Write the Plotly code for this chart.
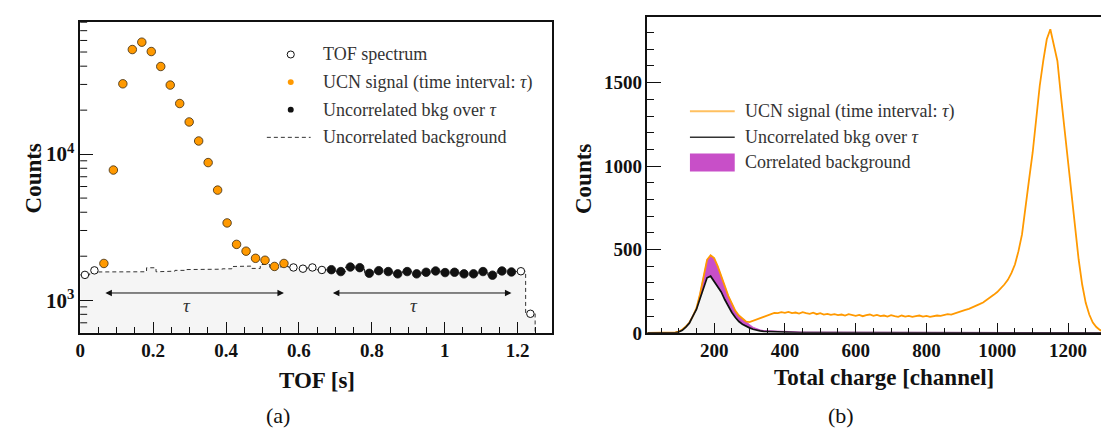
import numpy as np
import plotly.graph_objects as go

# ---------------- data: panel (a) TOF spectrum ----------------
TOF_BIN_WIDTH = 0.026  # s
TOF_COUNTS = [1490, 1600, 1784, 7780, 30300, 52000, 58400, 50400, 39800, 29700,
              22200, 16600, 12300, 8750, 5670, 3380, 2410, 2165, 1935, 1877,
              1702, 1784, 1675, 1643, 1675, 1610, 1617, 1570, 1686, 1670,
              1528, 1592, 1570, 1514, 1570, 1514, 1553, 1585, 1545, 1553,
              1514, 1514, 1570, 1483, 1585, 1560, 1578, 807]
BKG_COUNTS = [1490, 1560, 1567, 1560, 1555, 1560, 1565, 1667, 1565, 1580,
              1600, 1620, 1625, 1625, 1630, 1640, 1700, 1711, 1650, 1755,
              1680, 1700, 1675, 1643, 1675, 1610, 1617, 1570, 1686, 1670,
              1528, 1592, 1570, 1514, 1570, 1514, 1553, 1585, 1545, 1553,
              1514, 1514, 1570, 1483, 1585, 1560, 1578, 807]
SIGNAL_WINDOW = (0.05, 0.572)
BKG_WINDOW = (0.676, 1.196)

# ---------------- data: panel (b) charge spectra ----------------
CHANNELS = list(range(0, 1340, 10))
UCN_SIGNAL = [0, 0, 0, 0, 0, 0, 0, 0, 1, 3,
              8, 20, 38, 62, 100, 148, 232, 345, 438, 465,
              448, 400, 345, 282, 222, 172, 132, 104, 84, 68,
              64, 72, 82, 90, 98, 106, 112, 120, 118, 124,
              120, 126, 118, 122, 116, 124, 118, 114, 121, 112,
              118, 110, 114, 108, 112, 106, 110, 104, 112, 106,
              102, 108, 100, 106, 110, 102, 108, 100, 104, 98,
              106, 100, 96, 104, 98, 102, 96, 100, 104, 98,
              102, 96, 100, 104, 102, 108, 112, 110, 118, 124,
              130, 138, 144, 152, 162, 172, 182, 196, 212, 228,
              245, 265, 290, 318, 358, 410, 490, 590, 740, 920,
              1080, 1290, 1480, 1630, 1760, 1820, 1720, 1630, 1420, 1230,
              1000, 840, 620, 440, 290, 180, 110, 62, 35, 18,
              8, 3, 1, 0]
UNCORR_BKG = [0, 0, 0, 0, 0, 0, 0, 0, 0, 0,
              5, 15, 35, 58, 100, 140, 205, 270, 330, 340,
              310, 280, 245, 200, 158, 122, 92, 68, 52, 40,
              30, 22, 16, 12, 9, 8, 6, 5, 4, 4,
              3, 3, 3, 2, 2, 2, 2, 2, 2, 1,
              1, 1, 1, 1, 1, 1, 1, 1, 1, 1,
              1, 1, 1, 1, 1, 1, 1, 1, 1, 1,
              1, 1, 1, 1, 1, 1, 1, 1, 1, 1,
              1, 1, 1, 1, 1, 1, 1, 1, 1, 1,
              1, 1, 1, 1, 1, 1, 1, 1, 1, 1,
              1, 1, 1, 1, 1, 1, 1, 1, 1, 1,
              1, 1, 1, 1, 1, 1, 1, 1, 1, 1,
              1, 1, 1, 1, 1, 1, 1, 1, 1, 1,
              1, 1, 0, 0]
CORR_BKG = [0, 0, 0, 0, 0, 0, 0, 0, 0, 0,
            2, 4, 4, 5, 5, 6, 29, 75, 108, 125,
            138, 120, 100, 82, 64, 50, 40, 36, 32, 28,
            20, 12, 8, 6, 5, 5, 4, 4, 4, 4,
            3, 3, 3, 3, 3, 3, 3, 3, 3, 3,
            3, 3, 3, 3, 3, 3, 3, 3, 3, 3,
            3, 3, 3, 3, 3, 3, 3, 3, 3, 3,
            3, 3, 3, 3, 3, 3, 3, 3, 3, 3,
            3, 3, 3, 3, 3, 3, 3, 3, 3, 3,
            3, 3, 3, 3, 3, 3, 3, 3, 3, 3,
            3, 3, 3, 3, 3, 3, 3, 3, 3, 3,
            3, 3, 3, 3, 3, 3, 3, 3, 3, 3,
            3, 3, 3, 3, 3, 3, 3, 3, 3, 3,
            0, 0, 0, 0]

# ---------------- styling ----------------
W, H = 1109, 435
FONT = "Liberation Serif"
INK = "#111111"
ORANGE = "#ff9900"
MAGENTA = "#c84fc8"
GRAYFILL = "#f5f5f5"

A_LEFT, A_RIGHT, A_TOP, A_BOTTOM = 67.5, 541.7, 14.3, 333.0
B_LEFT, B_TOP, B_BOTTOM = 637.3, 9.0, 333.3


def px(x):
    return x / W


def py(y):
    return 1 - y / H


fig = go.Figure()

# ---- panel (a) ----
tof = np.array(TOF_COUNTS, dtype=float)
bkg = np.array(BKG_COUNTS, dtype=float)
centers = (np.arange(len(tof)) + 0.5) * TOF_BIN_WIDTH
step_x, step_y = [], []
for c, v in zip(centers, bkg):
    step_x += [c - TOF_BIN_WIDTH / 2, c + TOF_BIN_WIDTH / 2]
    step_y += [v, v]
step_x.append(step_x[-1])
step_y.append(1.0)  # drop below the axis after last bin

fig.add_trace(go.Scatter(x=step_x, y=step_y, mode="lines", xaxis="x", yaxis="y",
                         line=dict(color="#333333", width=1, dash="4px,3px"),
                         fill="tozeroy", fillcolor=GRAYFILL, hoverinfo="skip"))

in_sig = (centers >= SIGNAL_WINDOW[0]) & (centers <= SIGNAL_WINDOW[1])
in_bkg = (centers >= BKG_WINDOW[0]) & (centers <= BKG_WINDOW[1])
other = ~(in_sig | in_bkg)

fig.add_trace(go.Scatter(x=centers[other], y=tof[other], mode="markers", xaxis="x", yaxis="y",
                         marker=dict(size=7.5, color="white", line=dict(color=INK, width=1))))
fig.add_trace(go.Scatter(x=centers[in_sig], y=tof[in_sig], mode="markers", xaxis="x", yaxis="y",
                         marker=dict(size=8.5, color=ORANGE, line=dict(color="#3a2a10", width=0.8))))
fig.add_trace(go.Scatter(x=centers[in_bkg], y=tof[in_bkg], mode="markers", xaxis="x", yaxis="y",
                         marker=dict(size=8.5, color=INK, line=dict(color=INK, width=0.8))))

# ---- panel (b) ----
ch = np.array(CHANNELS, dtype=float)
ucn = np.array(UCN_SIGNAL, dtype=float)
unc = np.array(UNCORR_BKG, dtype=float)
cor = np.array(CORR_BKG, dtype=float)

fig.add_trace(go.Scatter(x=ch, y=unc, mode="lines", xaxis="x2", yaxis="y2",
                         line=dict(width=0, color=GRAYFILL), fill="tozeroy", fillcolor=GRAYFILL))
fig.add_trace(go.Scatter(x=ch, y=unc + cor, mode="lines", xaxis="x2", yaxis="y2",
                         line=dict(width=0.8, color=MAGENTA), fill="tonexty", fillcolor=MAGENTA))
fig.add_trace(go.Scatter(x=ch, y=ucn, mode="lines", xaxis="x2", yaxis="y2",
                         line=dict(width=1.8, color=ORANGE)))
fig.add_trace(go.Scatter(x=ch, y=unc, mode="lines", xaxis="x2", yaxis="y2",
                         line=dict(width=1.7, color=INK)))

# ---- axes ----
tick_font = dict(family=FONT, size=19, color=INK, weight="bold")
y_range_a = [np.log10(600), 4.905]

fig.update_layout(
    width=W, height=H, margin=dict(l=0, r=0, t=0, b=0),
    paper_bgcolor="white", plot_bgcolor="white", showlegend=False,
    font=dict(family=FONT, color=INK),
    xaxis=dict(domain=[px(A_LEFT), px(A_RIGHT)], range=[0, 1.295], anchor="y",
               showline=True, linecolor=INK, linewidth=1.5, mirror=True,
               ticks="inside", ticklen=11, tickwidth=1.2, tickcolor=INK,
               tick0=0, dtick=0.2, tickfont=tick_font, showgrid=False, zeroline=False,
               minor=dict(ticks="inside", ticklen=6, tick0=0, dtick=0.05, tickcolor=INK, tickwidth=1)),
    yaxis=dict(domain=[py(A_BOTTOM), py(A_TOP)], type="log", range=y_range_a, anchor="x",
               showline=True, linecolor=INK, linewidth=1.5, mirror=True,
               ticks="inside", ticklen=13, tickwidth=1.3, tickcolor=INK,
               tickmode="array", tickvals=[1000, 10000],
               ticktext=["10<sup>3</sup>", "10<sup>4</sup>"],
               tickfont=dict(family=FONT, size=21, color=INK, weight="bold"),
               showgrid=False, zeroline=False),
    xaxis2=dict(domain=[px(B_LEFT), 1.0], range=[11.5, 1338.4], anchor="y2",
                showline=True, linecolor=INK, linewidth=1.5, mirror=True,
                ticks="inside", ticklen=10, tickwidth=1.2, tickcolor=INK,
                tick0=0, dtick=200, tickfont=tick_font, showgrid=False, zeroline=False,
                minor=dict(ticks="inside", ticklen=5, tick0=0, dtick=50, tickcolor=INK, tickwidth=1)),
    yaxis2=dict(domain=[py(B_BOTTOM), py(B_TOP)], range=[0, 1895], anchor="x2",
                showline=True, linecolor=INK, linewidth=1.5, mirror=False,
                ticks="inside", ticklen=14, tickwidth=1.3, tickcolor=INK,
                tick0=0, dtick=500, tickfont=tick_font, showgrid=False, zeroline=False,
                minor=dict(ticks="inside", ticklen=7, tick0=0, dtick=100, tickcolor=INK, tickwidth=1)),
)

annotations = []
shapes = []

# minor log ticks on panel (a) y axis (2..9 x 10^n), drawn in the axis domain
span = y_range_a[1] - y_range_a[0]
for e in (2, 3, 4):
    for m in range(2, 10):
        f = (np.log10(m * 10 ** e) - y_range_a[0]) / span
        if 0 < f < 1:
            shapes.append(dict(type="line", xref="x domain", yref="y domain",
                               x0=0, x1=7 / (A_RIGHT - A_LEFT), y0=f, y1=f,
                               line=dict(color=INK, width=1)))

# window arrows and tau labels (panel a)
y_arrow = np.log10(1120)
y_tau = np.log10(920)
for mask in (in_sig, in_bkg):
    c0, c1 = centers[mask][0], centers[mask][-1]
    annotations.append(dict(x=c1, y=y_arrow, ax=c0, ay=y_arrow, xref="x", yref="y",
                            axref="x", ayref="y", showarrow=True, arrowhead=2,
                            arrowside="end+start", arrowsize=1.3, arrowwidth=1, arrowcolor=INK, text=""))
    annotations.append(dict(x=(c0 + c1) / 2 - 0.02, y=y_tau, xref="x", yref="y", showarrow=False,
                            xanchor="center", yanchor="middle",
                            text="<i>τ</i>", font=dict(family=FONT, size=19, color="#333")))

# legend panel (a)
leg_font = dict(family=FONT, size=18, color="#333")
rows_a = [47.7, 76, 104.3, 132.7]
labels_a = ["TOF spectrum", "UCN signal (time interval: <i>τ</i>)",
            "Uncorrelated bkg over <i>τ</i>", "Uncorrelated background"]
for yy, lab in zip(rows_a, labels_a):
    annotations.append(dict(x=px(309), y=py(yy), xref="paper", yref="paper", xanchor="left",
                            yanchor="middle", showarrow=False, text=lab, font=leg_font))
r = 3.6
shapes.append(dict(type="circle", xref="paper", yref="paper", x0=px(279 - r), x1=px(279 + r),
                   y0=py(rows_a[0] + r), y1=py(rows_a[0] - r), fillcolor="white",
                   line=dict(color=INK, width=1)))
r = 3.0
shapes.append(dict(type="circle", xref="paper", yref="paper", x0=px(279 - r), x1=px(279 + r),
                   y0=py(rows_a[1] + r), y1=py(rows_a[1] - r), fillcolor=ORANGE,
                   line=dict(color=ORANGE, width=0)))
shapes.append(dict(type="circle", xref="paper", yref="paper", x0=px(279 - r), x1=px(279 + r),
                   y0=py(rows_a[2] + r), y1=py(rows_a[2] - r), fillcolor=INK,
                   line=dict(color=INK, width=0)))
shapes.append(dict(type="line", xref="paper", yref="paper", x0=px(255), x1=px(299),
                   y0=py(rows_a[3]), y1=py(rows_a[3]), line=dict(color="#333", width=1, dash="4px,3px")))

# legend panel (b)
rows_b = [106, 132.7, 158.5]
labels_b = ["UCN signal (time interval: <i>τ</i>)", "Uncorrelated bkg over <i>τ</i>",
            "Correlated background"]
for yy, lab in zip(rows_b, labels_b):
    annotations.append(dict(x=px(733), y=py(yy), xref="paper", yref="paper", xanchor="left",
                            yanchor="middle", showarrow=False, text=lab, font=leg_font))
shapes.append(dict(type="line", xref="paper", yref="paper", x0=px(680), x1=px(725),
                   y0=py(rows_b[0]), y1=py(rows_b[0]), line=dict(color="#ffc060", width=2)))
shapes.append(dict(type="line", xref="paper", yref="paper", x0=px(680), x1=px(725),
                   y0=py(rows_b[1]), y1=py(rows_b[1]), line=dict(color="#333", width=1.5)))
shapes.append(dict(type="rect", xref="paper", yref="paper", x0=px(680), x1=px(725),
                   y0=py(167.7), y1=py(149.3), fillcolor=MAGENTA, line=dict(width=0)))

# axis titles and panel labels
title_font = dict(family=FONT, size=23, color=INK, weight="bold")


def label(x, y, text, font, angle=0):
    return dict(x=px(x), y=py(y), xref="paper", yref="paper", text=text, textangle=angle,
                xanchor="center", yanchor="middle", showarrow=False, font=font)


annotations += [
    label(21, 175, "Counts", title_font, -90),
    label(305, 382, "TOF [s]", title_font),
    label(266, 418, "(a)", dict(family=FONT, size=22, color=INK)),
    label(573, 175, "Counts", title_font, -90),
    label(875, 379, "Total charge [channel]", title_font),
    label(832, 418, "(b)", dict(family=FONT, size=22, color=INK)),
]

fig.update_layout(annotations=annotations, shapes=shapes)
fig.write_html("out.html")
